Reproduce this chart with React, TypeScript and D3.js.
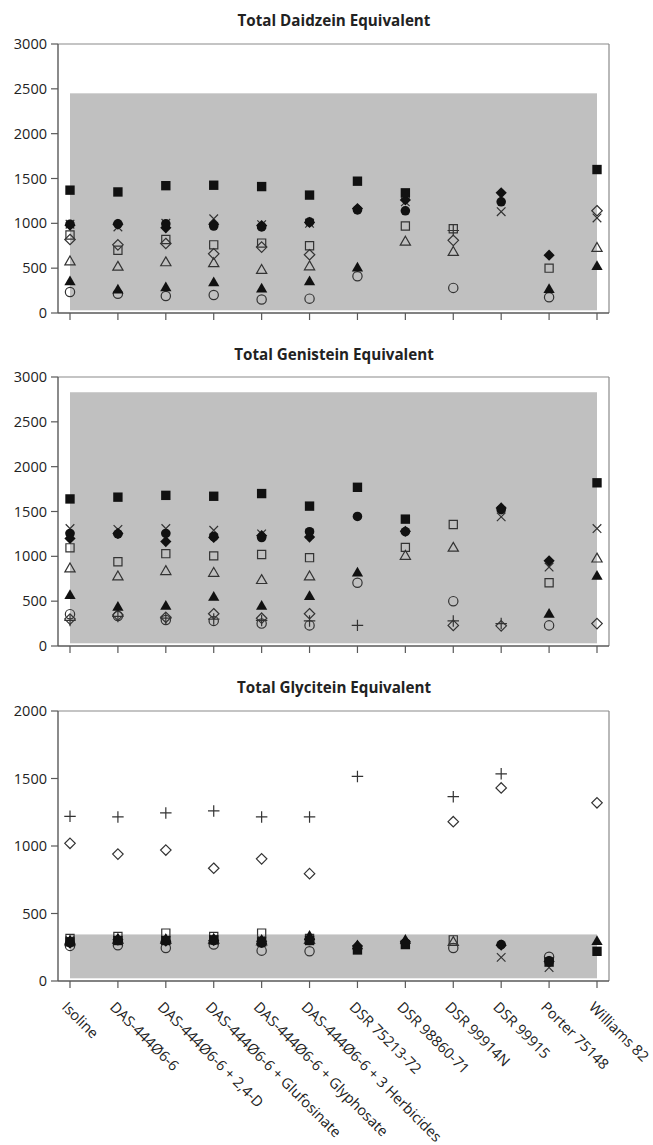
import React from "react";
import * as d3 from "d3";

const categories = [
  "Isoline",
  "DAS-444Ø6-6",
  "DAS-444Ø6-6 + 2,4-D",
  "DAS-444Ø6-6 + Glufosinate",
  "DAS-444Ø6-6 + Glyphosate",
  "DAS-444Ø6-6 + 3 Herbicides",
  "DSR 75213-72",
  "DSR 98860-71",
  "DSR 99914N",
  "DSR 99915",
  "Porter 75148",
  "Williams 82",
];

type V = (number | null)[];

// Total Daidzein Equivalent
const daidzein: Record<string, V> = {
  plus: [null, null, null, null, null, null, null, null, 920, null, null, null],
  openDiamond: [820, 760, 775, 660, 735, 650, null, null, 810, null, null, 1140],
  openCircle: [235, 215, 190, 200, 150, 160, 410, null, 280, null, 175, null],
  openTriangle: [570, 510, 560, 550, 475, 515, null, 790, 675, null, null, 720],
  openSquare: [870, 700, 820, 760, 780, 750, null, 970, 940, null, 500, null],
  cross: [990, 960, 1000, 1050, 985, 1000, null, 1240, null, 1130, null, 1060],
  filledTriangle: [345, 255, 280, 335, 265, 345, 500, null, null, null, 260, 515],
  filledDiamond: [980, 990, 950, 990, 975, 1010, 1165, 1260, null, 1340, 645, null],
  filledCircle: [990, 995, 995, 970, 960, 1015, 1150, 1140, null, 1240, null, null],
  filledSquare: [1370, 1350, 1420, 1425, 1410, 1315, 1470, 1340, null, null, null, 1600],
};

// Total Genistein Equivalent
const genistein: Record<string, V> = {
  plus: [285, 330, 310, 300, 285, 280, 230, null, 280, 250, null, null],
  openDiamond: [300, 345, 320, 360, 310, 360, null, null, 230, 225, null, 250],
  openCircle: [355, 335, 290, 280, 250, 230, 705, null, 500, null, 230, null],
  openTriangle: [860, 770, 830, 810, 730, 770, null, 1000, 1090, null, null, 970],
  openSquare: [1095, 940, 1030, 1005, 1020, 985, null, 1100, 1355, null, 705, null],
  cross: [1310, 1300, 1310, 1290, 1250, 1250, null, null, null, 1440, 880, 1310],
  filledTriangle: [560, 430, 440, 540, 440, 550, 810, null, null, null, 350, 775],
  filledDiamond: [1200, 1255, 1165, 1210, 1230, 1215, null, 1280, null, 1540, 950, null],
  filledCircle: [1255, 1250, 1255, 1220, 1210, 1275, 1445, 1275, null, 1520, null, null],
  filledSquare: [1640, 1660, 1680, 1670, 1700, 1560, 1770, 1415, null, null, null, 1820],
};

// Total Glycitein Equivalent
const glycitein: Record<string, V> = {
  plus: [1220, 1215, 1245, 1260, 1215, 1215, 1515, null, 1365, 1535, null, null],
  openDiamond: [1020, 940, 970, 835, 905, 795, null, null, 1180, 1430, null, 1320],
  openCircle: [260, 265, 245, 270, 225, 220, null, null, 245, null, 180, null],
  openTriangle: [290, 300, 300, 300, 290, 300, null, null, 285, null, null, null],
  openSquare: [315, 330, 355, 330, 355, 315, null, null, 305, null, null, null],
  cross: [300, 300, 300, 305, 300, 300, null, null, null, 175, 100, null],
  filledTriangle: [295, 310, 305, 310, 300, 330, 260, 300, null, null, null, 290],
  filledDiamond: [280, 305, 295, 300, 295, 310, 260, 290, null, 265, 145, null],
  filledCircle: [285, 300, 300, 300, 280, 300, 240, 280, null, 270, 150, null],
  filledSquare: [290, 300, 300, 305, 290, 300, 230, 270, null, null, 140, 220],
};

const titles = ["Total Daidzein Equivalent", "Total Genistein Equivalent", "Total Glycitein Equivalent"];
const yMax = [3000, 3000, 2000];
const yTicks = [
  [0, 500, 1000, 1500, 2000, 2500, 3000],
  [0, 500, 1000, 1500, 2000, 2500, 3000],
  [0, 500, 1000, 1500, 2000],
];
// shaded range (low, high) per panel
const rangeLow = [30, 30, 20];
const rangeHigh = [2450, 2830, 345];
const panelData = [daidzein, genistein, glycitein];

const panelTop = [44, 377, 711];
const panelBottom = [313, 646, 981];
const titleY = [26, 360, 693];

const left = 58;
const right = 609;
const x = d3.scalePoint<string>().domain(categories).range([70, 597]);

const markerStyle: Record<string, { type: d3.SymbolType; size: number; filled: boolean }> = {
  plus: { type: d3.symbolPlus, size: 45, filled: false },
  openDiamond: { type: d3.symbolDiamond2, size: 70, filled: false },
  openCircle: { type: d3.symbolCircle, size: 68, filled: false },
  openTriangle: { type: d3.symbolTriangle2, size: 75, filled: false },
  openSquare: { type: d3.symbolSquare2, size: 85, filled: false },
  cross: { type: d3.symbolTimes, size: 50, filled: false },
  filledTriangle: { type: d3.symbolTriangle, size: 55, filled: true },
  filledDiamond: { type: d3.symbolDiamond2, size: 80, filled: true },
  filledCircle: { type: d3.symbolCircle, size: 72, filled: true },
  filledSquare: { type: d3.symbolSquare, size: 88, filled: true },
};

const axisColor = "#595959";
const font = "'Open Sans', 'Liberation Sans', sans-serif";

function Panel({ i }: { i: number }) {
  const y = d3.scaleLinear().domain([0, yMax[i]]).range([panelBottom[i], panelTop[i]]);
  const data = panelData[i];
  const x0 = x(categories[0])!;
  const x1 = x(categories[categories.length - 1])!;
  return (
    <g>
      <text x={334} y={titleY[i]} textAnchor="middle" fontFamily={font} fontWeight="bold" fontSize={15.2} fill="#222">
        {titles[i]}
      </text>
      <rect x={x0} y={y(rangeHigh[i])} width={x1 - x0} height={y(rangeLow[i]) - y(rangeHigh[i])} fill="#c0c0c0" />
      {/* frame */}
      <line x1={left} x2={right} y1={panelTop[i]} y2={panelTop[i]} stroke="#8a8a8a" strokeWidth={1.2} />
      <line x1={right} x2={right} y1={panelTop[i]} y2={panelBottom[i]} stroke="#8a8a8a" strokeWidth={1.2} />
      <line x1={left} x2={right} y1={panelBottom[i]} y2={panelBottom[i]} stroke={axisColor} strokeWidth={1.4} />
      <line x1={left} x2={left} y1={panelTop[i]} y2={panelBottom[i]} stroke={axisColor} strokeWidth={1.4} />
      {yTicks[i].map((t) => (
        <g key={t}>
          <line x1={left - 7} x2={left} y1={y(t)} y2={y(t)} stroke={axisColor} strokeWidth={1.2} />
          <text x={left - 11} y={y(t) + 5} textAnchor="end" fontFamily={font} fontSize={14.5} fill="#222">
            {t}
          </text>
        </g>
      ))}
      {categories.map((c) => (
        <line key={c} x1={x(c)} x2={x(c)} y1={panelBottom[i]} y2={panelBottom[i] + 7} stroke={axisColor} strokeWidth={1.2} />
      ))}
      {Object.keys(markerStyle).map((key) => {
        const m = markerStyle[key];
        const path = d3.symbol().type(m.type).size(m.size)()!;
        return (
          <g key={key}>
            {data[key].map((v, j) =>
              v == null ? null : (
                <path
                  key={j}
                  d={path}
                  transform={`translate(${x(categories[j])},${y(v)})`}
                  fill={m.filled ? "#111" : "none"}
                  stroke={m.filled ? "none" : "#333"}
                  strokeWidth={1.2}
                />
              )
            )}
          </g>
        );
      })}
    </g>
  );
}

export default function App() {
  return (
    <svg
      width={653}
      height={1145}
      style={{ position: "absolute", left: 0, top: 0, background: "#fff" }}
    >
      {[0, 1, 2].map((i) => (
        <Panel key={i} i={i} />
      ))}
      {categories.map((c) => (
        <text
          key={c}
          transform={`translate(${x(c)! - 9},${panelBottom[2] + 27}) rotate(45)`}
          fontFamily={font}
          fontSize={14.6}
          fill="#222"
        >
          {c}
        </text>
      ))}
    </svg>
  );
}
